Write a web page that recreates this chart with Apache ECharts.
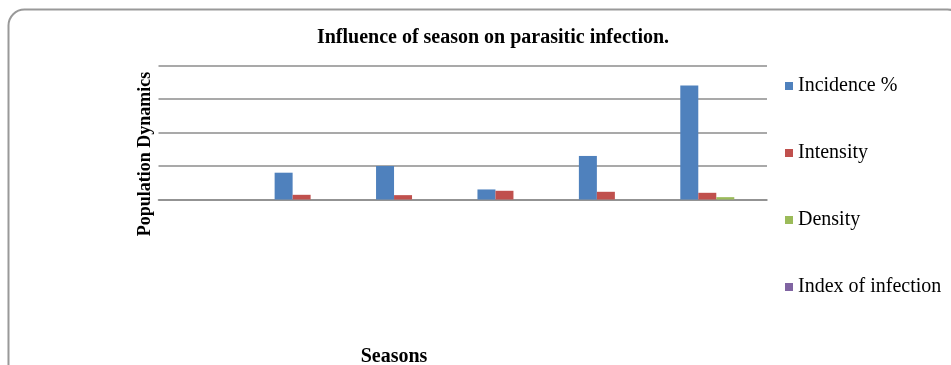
<!DOCTYPE html>
<html>
<head>
<meta charset="utf-8">
<script src="https://cdn.jsdelivr.net/npm/echarts@6/dist/echarts.min.js"></script>
<style>html,body{margin:0;padding:0;background:#fff}#c{width:951px;height:365px}</style>
</head>
<body>
<div id="c"></div>
<script>
var categories = ['', 'Season 1', 'Season 2', 'Season 3', 'Season 4', 'Season 5'];
var incidence = [0, 8, 10, 3, 13, 34];
var intensity = [0, 1.4, 1.3, 2.6, 2.3, 2.0];
var density = [0, 0, 0, 0, 0, 0.7];
var indexInfection = [0, 0, 0, 0, 0, 0];
var yTicks = [0, 10, 20, 30, 40];

var chart = echarts.init(document.getElementById('c'));
var serif = '"Liberation Serif", "Times New Roman", serif';
function bar(name, data, color) {
  return {name: name, type: 'bar', data: data, barWidth: 18, barGap: '0%',
    itemStyle: {color: color}, animation: false};
}
chart.setOption({
  animation: false,
  title: {text: 'Influence of season on parasitic infection.', left: 488, top: 23, textAlign: 'center',
    textStyle: {fontFamily: serif, fontWeight: 'bold', fontSize: 20, color: '#000'}},
  grid: {left: 158.5, right: 184, top: 65.5, bottom: 165.5, containLabel: false},
  legend: {orient: 'vertical', left: 785, top: 76, padding: 0, itemWidth: 8, itemHeight: 8, icon: 'rect', itemGap: 47,
    textStyle: {fontFamily: serif, fontSize: 20, color: '#000', lineHeight: 20},
    data: ['Incidence %', 'Intensity', 'Density', 'Index of infection']},
  xAxis: {type: 'category', data: categories, axisLabel: {show: false}, axisTick: {show: false},
    axisLine: {lineStyle: {color: '#8c8c8c', width: 1.6}}},
  yAxis: {type: 'value', min: yTicks[0], max: yTicks[yTicks.length-1], interval: yTicks[1]-yTicks[0],
    axisLabel: {show: false}, axisLine: {show: false}, axisTick: {show: false},
    splitLine: {lineStyle: {color: '#8c8c8c', width: 1.6}}},
  graphic: [
    {type: 'rect', shape: {x: 8.5, y: 9.5, width: 955, height: 420, r: 16}, style: {fill: 'none', stroke: '#999', lineWidth: 2}, silent: true},
    {type: 'text', x: 145, y: 154, rotation: Math.PI/2, style: {text: 'Population Dynamics', font: 'bold 18px ' + serif, fill: '#000', textAlign: 'center', textVerticalAlign: 'middle'}},
    {type: 'text', x: 394, y: 357, style: {text: 'Seasons', font: 'bold 20px ' + serif, fill: '#000', textAlign: 'center', textVerticalAlign: 'middle'}}
  ],
  series: [
    bar('Incidence %', incidence, '#4F81BD'),
    bar('Intensity', intensity, '#C0504D'),
    bar('Density', density, '#9BBB59'),
    bar('Index of infection', indexInfection, '#8064A2')
  ]
});
</script>
</body>
</html>
